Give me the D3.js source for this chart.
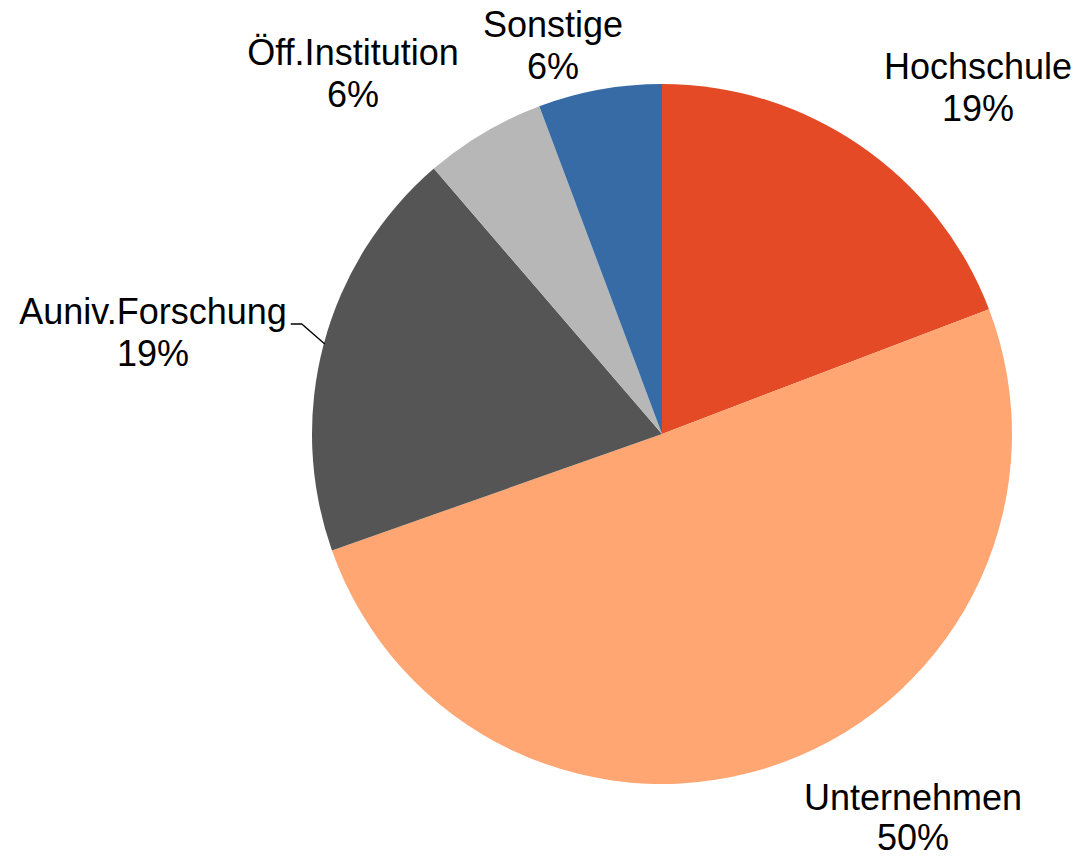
<!DOCTYPE html>
<html>
<head>
<meta charset="utf-8">
<script src="https://cdn.jsdelivr.net/npm/d3@7/dist/d3.min.js"></script>
<style>
  html, body { margin: 0; padding: 0; background: #ffffff; }
  svg { display: block; }
  text { font-family: "Liberation Sans", Arial, sans-serif; font-size: 36px; fill: #000; }
</style>
</head>
<body>
<svg id="chart" width="1082" height="860"></svg>
<script>
// Data (clockwise from 12 o'clock)
const categories = ["Hochschule", "Unternehmen", "Auniv.Forschung", "Öff.Institution", "Sonstige"];
const shares = [19.2, 50.4, 19.1, 5.6, 5.7];
const colors = ["#E34A25", "#FFA672", "#555555", "#B7B7B7", "#376BA5"];

// Layout: label anchor (centre x, baseline of name line)
const labelPos = [
  [978, 79],
  [913, 810],
  [153, 324],
  [353, 65],
  [553, 37]
];
const lineGap = 42;
const bottomLineGap = 40;

const cx = 662, cy = 434, R = 350;

const svg = d3.select("#chart");
const g = svg.append("g").attr("transform", `translate(${cx},${cy})`);

const data = categories.map((c, i) => ({ name: c, value: shares[i], color: colors[i] }));

const pie = d3.pie().value(d => d.value).sort(null).startAngle(0).endAngle(2 * Math.PI);
const arcs = pie(data);
const arc = d3.arc().innerRadius(0).outerRadius(R);

g.selectAll("path.slice")
  .data(arcs)
  .join("path")
  .attr("class", "slice")
  .attr("d", arc)
  .attr("fill", d => d.data.color);

// Labels
const lab = svg.selectAll("g.lab")
  .data(arcs)
  .join("g")
  .attr("class", "lab");

lab.append("text")
  .attr("class", "name")
  .attr("x", (d, i) => labelPos[i][0])
  .attr("y", (d, i) => labelPos[i][1])
  .attr("text-anchor", "middle")
  .text(d => d.data.name);

lab.append("text")
  .attr("x", (d, i) => labelPos[i][0])
  .attr("y", (d, i) => labelPos[i][1] + (i === 1 ? bottomLineGap : lineGap))
  .attr("text-anchor", "middle")
  .text(d => Math.round(d.data.value) + "%");

// Leader line for Auniv.Forschung label
{
  const t = lab.filter((d, i) => i === 2).select("text.name").node();
  const bb = t.getBBox();
  const ly = labelPos[2][1] - cy;
  const startX = bb.x + bb.width + 4 - cx;
  const bendX = startX + 11;
  const edgeY = ly + 20;
  const edgeX = -Math.sqrt(R * R - edgeY * edgeY) + 1;
  g.append("path")
    .attr("d", `M${startX},${ly}L${bendX},${ly}L${edgeX},${edgeY}`)
    .attr("fill", "none")
    .attr("stroke", "#000")
    .attr("stroke-width", 1.3);
}
</script>
</body>
</html>
